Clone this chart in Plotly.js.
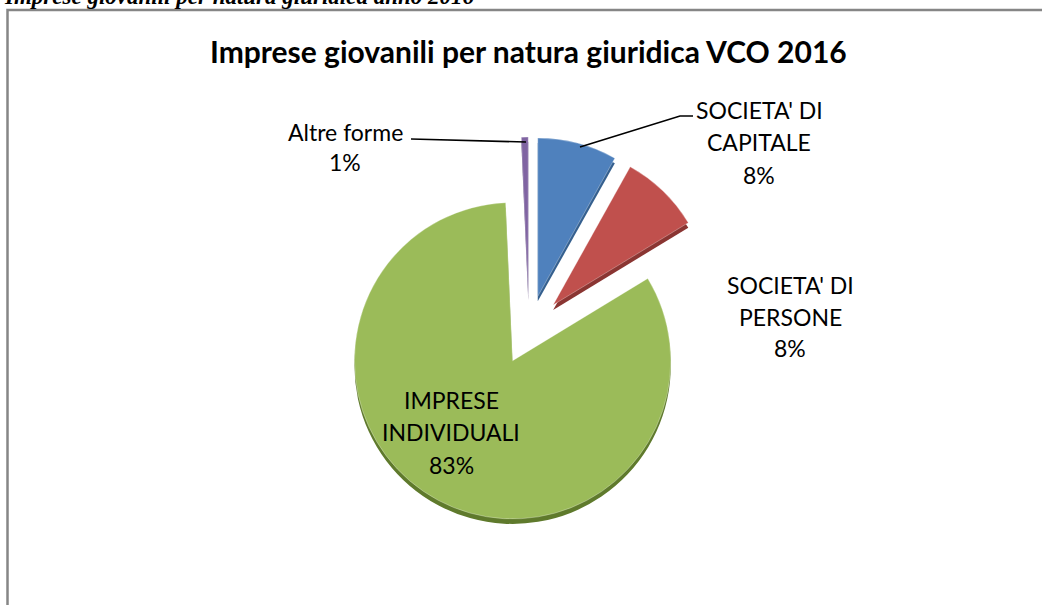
<!DOCTYPE html>
<html>
<head>
<meta charset="utf-8">
<script src="https://cdn.plot.ly/plotly-3.0.1.min.js"></script>
<style>html,body{margin:0;padding:0;background:#fff;}#chart{width:1042px;height:605px;}</style>
</head>
<body>
<div id="chart"></div>
<script>
// ---- data ----
var categoryLines = [["SOCIETA' DI", "CAPITALE"], ["SOCIETA' DI", "PERSONE"], ["IMPRESE", "INDIVIDUALI"], ["Altre forme"]];
var categories = categoryLines.map(function (l) { return l.join(' '); });
var values = [8.1, 8.2, 83.0, 0.7];
var colors = ['#4f81bd', '#c0504d', '#9bbb59', '#8064a2'];
var sideColors = ['#35608f', '#8a3532', '#5f7a2c', '#5a4478'];
var chartTitle = 'Imprese giovanili per natura giuridica VCO 2016';
var docCaption = 'Imprese giovanili per natura giuridica anno 2016';

// ---- layout helpers ----
var W = 1042, H = 605;
function px(x) { return x / W; }
function py(y) { return 1 - y / H; }

var total = values.reduce(function (a, b) { return a + b; }, 0);
var pct = values.map(function (v) { return Math.round(v / total * 100) + '%'; });

var pieCx = 529, pieCy = 330, pieHalf = 193, pieDepth = 5;
var pullv = 0.22;
var domFace = { x: [px(pieCx - pieHalf), px(pieCx + pieHalf)], y: [py(pieCy + pieHalf), py(pieCy - pieHalf)] };
var domSide = { x: [px(pieCx - pieHalf), px(pieCx + pieHalf)], y: [py(pieCy + pieHalf + pieDepth), py(pieCy - pieHalf + pieDepth)] };

function makePie(dom, cols, lineSpec) {
  return {
    type: 'pie', labels: categories, values: values, sort: false,
    direction: 'clockwise', rotation: 0, textinfo: 'none', hoverinfo: 'none',
    pull: values.map(function () { return pullv; }), showlegend: false,
    domain: dom, marker: { colors: cols, line: lineSpec }
  };
}
var sideTrace = makePie(domSide, sideColors, { width: 0 });
var faceTrace = makePie(domFace, colors, { width: 0.6, color: 'rgba(255,255,255,0.5)' });

// label anchor positions (pixel centres of each line)
var labelPos = [
  { x: 759, y: [110, 142, 175] },
  { x: 790, y: [285, 317, 348] },
  { x: 451, y: [400, 432, 465] },
  { x: 345, y: [132, 162] }
];
var lblFont = { family: 'Lato, "Open Sans", sans-serif', size: 23, color: '#000' };

var annotations = [];
categoryLines.forEach(function (lines, i) {
  var all = lines.concat([pct[i]]);
  all.forEach(function (t, j) {
    annotations.push({
      xref: 'paper', yref: 'paper', x: px(labelPos[i].x), y: py(labelPos[i].y[j]),
      xanchor: 'center', yanchor: 'middle', text: t, showarrow: false, font: lblFont
    });
  });
});
annotations.push({
  xref: 'paper', yref: 'paper', x: px(528), y: py(51), xanchor: 'center', yanchor: 'middle',
  text: '<b>' + chartTitle + '</b>', showarrow: false,
  font: { family: 'Lato, "Open Sans", sans-serif', size: 30, color: '#000' }
});
annotations.push({
  xref: 'paper', yref: 'paper', x: px(2), y: py(-3), xanchor: 'left', yanchor: 'middle',
  text: '<b><i>' + docCaption + '</i></b>', showarrow: false,
  font: { family: '"Liberation Serif", "DejaVu Serif", serif', size: 23, color: '#000' }
});

var shapes = [
  { type: 'rect', xref: 'paper', yref: 'paper', x0: px(7.5), x1: px(1060), y0: py(10), y1: py(630),
    line: { color: '#868686', width: 2.5 }, fillcolor: 'rgba(0,0,0,0)' },
  { type: 'path', xref: 'paper', yref: 'paper',
    path: 'M' + px(411) + ',' + py(139) + ' L' + px(526) + ',' + py(142),
    line: { color: '#000', width: 1.6 } },
  { type: 'path', xref: 'paper', yref: 'paper',
    path: 'M' + px(580) + ',' + py(147) + ' L' + px(680) + ',' + py(116) + ' L' + px(693) + ',' + py(116),
    line: { color: '#000', width: 1.6 } }
];

var layout = {
  width: W, height: H, margin: { l: 0, r: 0, t: 0, b: 0 },
  paper_bgcolor: '#fff', plot_bgcolor: '#fff',
  annotations: annotations, shapes: shapes, showlegend: false
};
Plotly.newPlot('chart', [sideTrace, faceTrace], layout, { displayModeBar: false, staticPlot: true });
</script>
</body>
</html>
